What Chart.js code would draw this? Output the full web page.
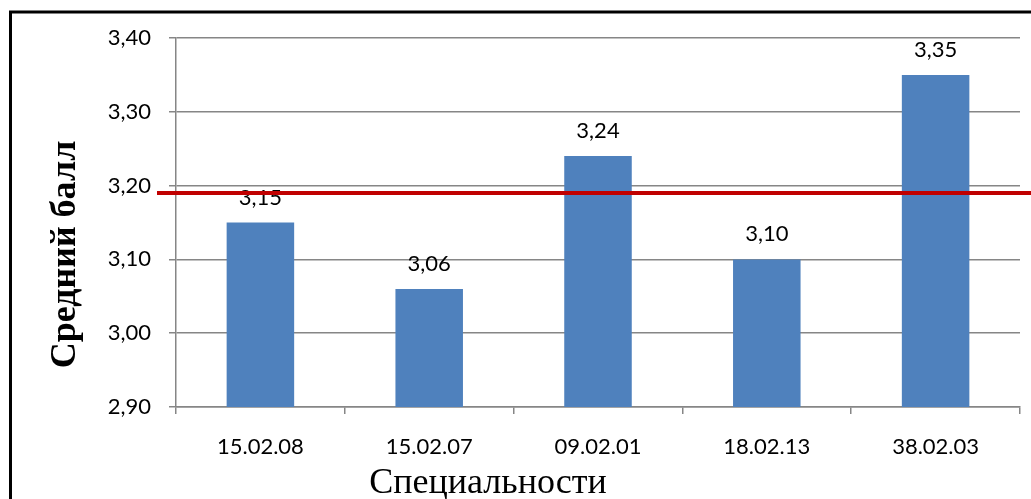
<!DOCTYPE html>
<html>
<head>
<meta charset="utf-8">
<script src="https://cdn.jsdelivr.net/npm/chart.js@4.4.1/dist/chart.umd.min.js"></script>
<style>
    body { margin: 0; background: #fff; }
    #wrap { width: 1031px; height: 499px; position: relative; }
</style>
</head>
<body>
<div id="wrap"><canvas id="scoreChart"></canvas></div>
<script>
const categories = ['15.02.08', '15.02.07', '09.02.01', '18.02.13', '38.02.03'];
const scores = [3.15, 3.06, 3.24, 3.10, 3.35];
const averageScore = 3.19;
const yTicks = [2.90, 3.00, 3.10, 3.20, 3.30, 3.40];

const labelFont = 'Lato, "Open Sans", sans-serif';
const titleFont = '"Liberation Serif", "DejaVu Serif", serif';

function formatScore(v) {
    return v.toFixed(2).replace('.', ',');
}

// labels over bars, average line, axis titles and the frame
const extrasPlugin = {
    id: 'extras',
    beforeDraw(chart) {
        const ctx = chart.ctx;
        ctx.save();
        ctx.fillStyle = '#ffffff';
        ctx.fillRect(0, 0, chart.width, chart.height);
        ctx.restore();
    },
    afterDatasetsDraw(chart) {
        const ctx = chart.ctx;
        const area = chart.chartArea;
        const meta = chart.getDatasetMeta(0);

        ctx.save();
        ctx.fillStyle = '#000000';
        ctx.font = '22px ' + labelFont;
        ctx.textAlign = 'center';
        ctx.textBaseline = 'alphabetic';
        meta.data.forEach((bar, i) => {
            ctx.fillText(formatScore(scores[i]), bar.x, bar.y - 18);
        });

        const yAvg = chart.scales.y.getPixelForValue(averageScore);
        ctx.beginPath();
        ctx.moveTo(area.left - 19, yAvg);
        ctx.lineTo(chart.width, yAvg);
        ctx.strokeStyle = '#C00000';
        ctx.lineWidth = 4;
        ctx.stroke();
        ctx.restore();
    },
    afterDraw(chart) {
        const ctx = chart.ctx;
        const area = chart.chartArea;
        ctx.save();
        ctx.fillStyle = '#000000';

        ctx.font = '36px ' + titleFont;
        ctx.textAlign = 'center';
        ctx.textBaseline = 'alphabetic';
        ctx.fillText('Специальности', area.left + 312, chart.height - 6);

        ctx.translate(75, (area.top + area.bottom) / 2 + 32);
        ctx.rotate(-Math.PI / 2);
        ctx.font = 'bold 36px ' + titleFont;
        ctx.fillText('Средний балл', 0, 0);
        ctx.restore();

        ctx.save();
        ctx.beginPath();
        ctx.moveTo(10.5, chart.height);
        ctx.lineTo(10.5, 12);
        ctx.lineTo(chart.width, 12);
        ctx.strokeStyle = '#000000';
        ctx.lineWidth = 3;
        ctx.stroke();
        ctx.restore();
    }
};

new Chart(document.getElementById('scoreChart'), {
    type: 'bar',
    data: {
        labels: categories,
        datasets: [{
            data: scores,
            backgroundColor: '#4F81BD',
            categoryPercentage: 1,
            barPercentage: 0.4
        }]
    },
    options: {
        responsive: true,
        maintainAspectRatio: false,
        animation: false,
        layout: {
            padding: {top: 38, right: 11, bottom: 0, left: 0}
        },
        plugins: {
            legend: {display: false},
            tooltip: {enabled: false}
        },
        scales: {
            x: {
                afterFit(scale) { scale.height = 92; },
                grid: {
                    display: true,
                    drawOnChartArea: false,
                    drawTicks: true,
                    tickLength: 7,
                    color: '#868686',
                    lineWidth: 1.5
                },
                border: {display: true, color: '#868686', width: 1.5},
                ticks: {
                    color: '#000000',
                    font: {family: labelFont, size: 22},
                    padding: 20,
                    maxRotation: 0
                }
            },
            y: {
                min: yTicks[0],
                max: yTicks[yTicks.length - 1],
                afterFit(scale) { scale.width = 176; },
                afterBuildTicks(scale) {
                    scale.ticks = yTicks.map(v => ({value: v}));
                },
                grid: {
                    color: '#868686',
                    lineWidth: 1.5,
                    tickLength: 7
                },
                border: {display: true, color: '#868686', width: 1.5},
                ticks: {
                    color: '#000000',
                    font: {family: labelFont, size: 22},
                    padding: 18,
                    callback: v => formatScore(v)
                }
            }
        }
    },
    plugins: [extrasPlugin]
});
</script>
</body>
</html>
